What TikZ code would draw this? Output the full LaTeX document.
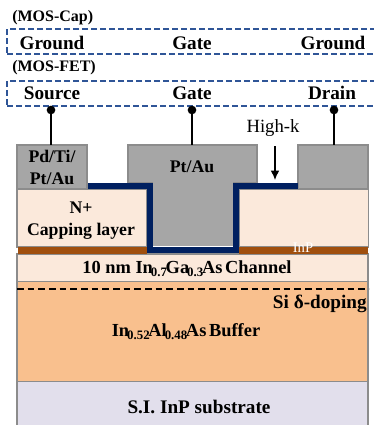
\documentclass[tikz,border=0pt]{standalone}
\usepackage{fontspec}
\setmainfont{Liberation Serif}
\usepackage{xcolor}
\usetikzlibrary{arrows.meta,positioning,calc}
\definecolor{gMetal}{HTML}{A6A6A6}
\definecolor{gEdge}{HTML}{8C8C8C}
\definecolor{cCap}{HTML}{FBE9DB}
\definecolor{cInP}{HTML}{A04F0E}
\definecolor{cBuffer}{HTML}{F9C08E}
\definecolor{cSub}{HTML}{E2DFEC}
\definecolor{cOxide}{HTML}{002060}
\definecolor{cBox}{HTML}{2F5597}
\newcommand{\lowidx}[1]{\kern-1.5pt\textsubscript{#1}\kern-1.5pt}
\tikzset{
  layer/.style={rectangle, draw=gEdge, line width=0.8pt, inner sep=0pt, outer sep=0pt, anchor=north west, align=center},
  metal/.style={layer, fill=gMetal},
  probe/.style={rectangle, draw=cBox, dash pattern=on 4.5pt off 2.25pt, line width=1.4pt, inner sep=0pt, outer sep=0pt, anchor=north west, minimum width=281pt, minimum height=18.5pt},
  lbl/.style={inner sep=0pt, font=\fontsize{14.4}{16}\selectfont\bfseries},
  tag/.style={inner sep=0pt, anchor=west, font=\fontsize{12}{14}\selectfont\bfseries},
  tip/.style={circle, fill=black, inner sep=0pt, outer sep=0pt, minimum size=6.5pt},
  wire/.style={line width=1.2pt, draw=black},
  oxide/.style={line width=4.5pt, draw=cOxide, line join=miter}
}
\begin{document}
\begin{tikzpicture}[x=0.75pt,y=-0.75pt]
  \useasboundingbox (0,0) rectangle (374,425);
  \node[tag] (capTag) at (12,18) {(MOS-Cap)};
  \node[probe] (capBox) at (7,29) {};
  \node[lbl] (capL) at (52,43) {Ground};
  \node[lbl] (capG) at (192,43) {Gate};
  \node[lbl] (capR) at (333,43) {Ground};
  \node[tag] (fetTag) at (12,68) {(MOS-FET)};
  \node[probe] (fetBox) at (7,81) {};
  \node[lbl] (fetS) at (52,93) {Source};
  \node[lbl] (fetG) at (192,93) {Gate};
  \node[lbl] (fetD) at (332,93) {Drain};
  % epi stack
  \node[layer, fill=cCap, minimum width=263.25pt, minimum height=20.5pt] (channel) at (17,254) {};
  \node[layer, fill=cBuffer, minimum width=263.25pt, minimum height=75pt, below=0pt of channel.south west, anchor=north west] (buffer) {};
  \node[layer, fill=cSub, minimum width=263.25pt, minimum height=33pt, below=0pt of buffer.south west, anchor=north west] (substrate) {};
  \node[lbl, font=\fontsize{13.8}{16}\selectfont\bfseries] at (187,268.5) (channelT) {10 nm In\lowidx{0.7}Ga\lowidx{0.3}As\kern2pt Channel};
  \node[lbl, font=\fontsize{13.8}{16}\selectfont\bfseries] at (186,332) (bufferT) {In\lowidx{0.52}Al\lowidx{0.48}As\kern2pt Buffer};
  \node[lbl] at (199,407) (substrateT) {S.I. InP substrate};
  \node[lbl, anchor=east] at (367,304) (dopingT) {Si δ-doping};
  \coordinate (dopeL) at (17,289);
  \coordinate (dopeR) at (369,289);
  \draw[line width=1pt, dash pattern=on 5pt off 3pt] (dopeL) -- (dopeR);
  % capping and etch stop
  \node[layer, fill=cCap, minimum width=97pt, minimum height=43.5pt] (capLeft) at (17,189) {};
  \node[layer, fill=cCap, minimum width=97pt, minimum height=43.5pt] (capRight) at (239,189) {};
  \node[layer, draw=none, fill=cInP, minimum width=97pt, minimum height=5.6pt] (inpLeft) at (18,247) {};
  \node[layer, draw=none, fill=cInP, minimum width=96.5pt, minimum height=5.6pt] (inpRight) at (239,247) {};
  \node[lbl, font=\fontsize{11}{13}\selectfont, text=white] at (303,248) (inpT) {InP};
  \node[lbl, align=center, font=\fontsize{13.3}{16.5}\selectfont\bfseries] at (81,221) (capT) {N+\\Capping layer};
  % metals
  \node[metal, minimum width=52.5pt, minimum height=33pt] (metalS) at (17,145) {};
  \node[metal, minimum width=52.5pt, minimum height=33pt] (metalD) at (298,145) {};
  \node[metal, minimum width=96.75pt, minimum height=28.5pt] (metalG) at (128,145) {};
  \node[layer, draw=none, fill=gMetal, minimum width=60pt, minimum height=48pt] (stemG) at (153,182) {};
  \node[lbl, align=center, font=\fontsize{13.3}{16.5}\selectfont\bfseries] at (52,167) (metalST) {Pd/Ti/\\Pt/Au};
  \node[lbl, font=\fontsize{13.3}{16}\selectfont\bfseries] at (192,167) (metalGT) {Pt/Au};
  % high-k
  \coordinate (oxA) at (88,185.5);
  \coordinate (oxB) at (150,185.5);
  \coordinate (oxC) at (150,250);
  \coordinate (oxD) at (235.5,250);
  \coordinate (oxE) at (235.5,185.5);
  \coordinate (oxF) at (298,185.5);
  \draw[oxide] (oxA) -- (oxB) -- (oxC) -- (oxD) -- (oxE) -- (oxF);
  \node[lbl, font=\fontsize{14}{16}\selectfont] at (273,128) (highk) {High-k};
  \coordinate (highkTip) at (275,180);
  \coordinate (highkTop) at (275,146);
  \draw[-{Latex[length=7pt,width=6.5pt]}, line width=1pt] (highkTop) -- (highkTip);
  % contacts
  \node[tip] (tipS) at (51,110) {};
  \node[tip] (tipG) at (192,110) {};
  \node[tip] (tipD) at (334,110) {};
  \draw[wire] (tipS) -- (tipS |- metalS.north);
  \draw[wire] (tipG) -- (tipG |- metalG.north);
  \draw[wire] (tipD) -- (tipD |- metalD.north);
\end{tikzpicture}
\end{document}
